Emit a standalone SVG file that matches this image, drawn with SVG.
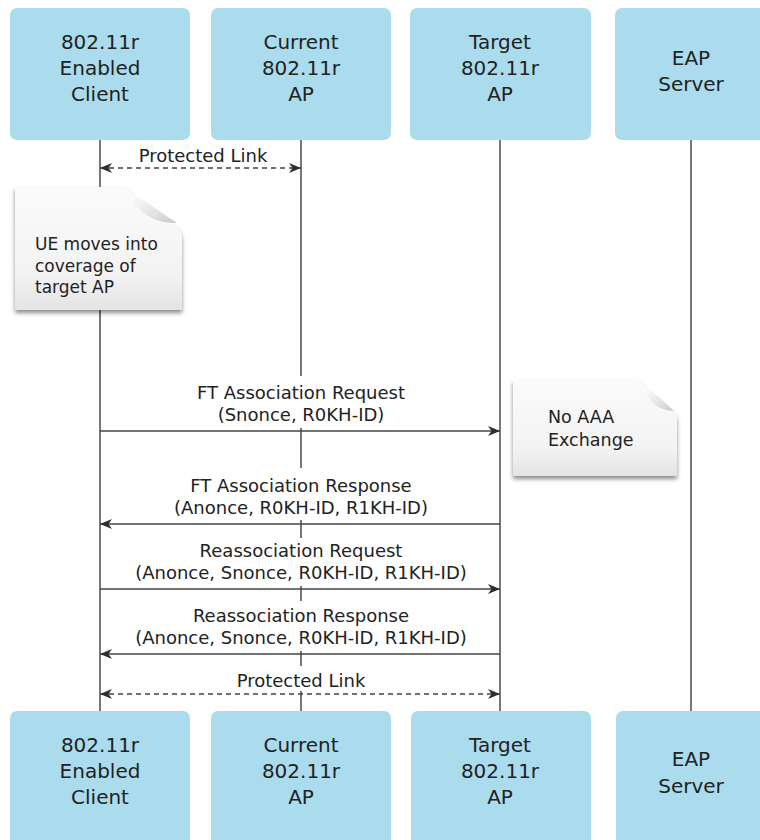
<svg xmlns="http://www.w3.org/2000/svg" width="760" height="840" viewBox="0 0 760 840">
<style>
.box{fill:#aadcee;}
.bt{font-family:"DejaVu Sans",sans-serif;font-size:20px;fill:#222;text-anchor:middle;}
.lt{font-family:"DejaVu Sans",sans-serif;font-size:18px;fill:#222;text-anchor:middle;}
.nt{font-family:"DejaVu Sans",sans-serif;font-size:17px;fill:#222;}
.life{stroke:#555;stroke-width:1.6;fill:none;}
.msg{stroke:#444;stroke-width:1.5;fill:none;marker-end:url(#ah);}
.dash{stroke:#444;stroke-width:1.5;fill:none;stroke-dasharray:5 4;marker-start:url(#ah);marker-end:url(#ah);}
.bg{fill:#ffffff;}
.page{fill:url(#pg);filter:url(#sh);}
.flap{fill:url(#fg);}
</style>
<defs>
<marker id="ah" viewBox="0 0 12 10" refX="12" refY="5" markerWidth="12" markerHeight="10" markerUnits="userSpaceOnUse" orient="auto-start-reverse">
<path d="M0,0 L12,5 L0,10 L3.5,5 Z" fill="#2e2e2e"/>
</marker>
<linearGradient id="pg" x1="0" y1="0" x2="0" y2="1">
<stop offset="0" stop-color="#fbfbfb"/>
<stop offset="0.7" stop-color="#f3f3f3"/>
<stop offset="1" stop-color="#e4e4e4"/>
</linearGradient>
<linearGradient id="fg" x1="0" y1="0" x2="1" y2="1">
<stop offset="0" stop-color="#ffffff"/>
<stop offset="0.6" stop-color="#e2e2e2"/>
<stop offset="1" stop-color="#c8c8c8"/>
</linearGradient>
<filter id="sh" x="-10%" y="-10%" width="125%" height="130%">
<feDropShadow dx="0" dy="3" stdDeviation="2" flood-color="#000" flood-opacity="0.45"/>
</filter>
</defs>
<rect x="0" y="0" width="760" height="840" fill="#ffffff"/>

<g id="lifelines">
<line class="life" x1="100" y1="140" x2="100" y2="711"/>
<line class="life" x1="301" y1="140" x2="301" y2="711"/>
<line class="life" x1="500" y1="140" x2="500" y2="711"/>
<line class="life" x1="691" y1="140" x2="691" y2="711"/>
</g>

<g id="node-client-top">
<rect class="box" x="10" y="8" width="180" height="132" rx="7"/>
<text class="bt" x="100" y="49">802.11r</text>
<text class="bt" x="100" y="75">Enabled</text>
<text class="bt" x="100" y="101">Client</text>
</g>
<g id="node-current-top">
<rect class="box" x="211" y="8" width="180" height="132" rx="7"/>
<text class="bt" x="301" y="49">Current</text>
<text class="bt" x="301" y="75">802.11r</text>
<text class="bt" x="301" y="101">AP</text>
</g>
<g id="node-target-top">
<rect class="box" x="410" y="8" width="181" height="132" rx="7"/>
<text class="bt" x="500" y="49">Target</text>
<text class="bt" x="500" y="75">802.11r</text>
<text class="bt" x="500" y="101">AP</text>
</g>
<g id="node-eap-top">
<rect class="box" x="615" y="8" width="160" height="132" rx="7"/>
<text class="bt" x="691" y="65">EAP</text>
<text class="bt" x="691" y="91">Server</text>
</g>

<g id="node-client-bottom">
<rect class="box" x="10" y="711" width="180" height="140" rx="7"/>
<text class="bt" x="100" y="752">802.11r</text>
<text class="bt" x="100" y="778">Enabled</text>
<text class="bt" x="100" y="804">Client</text>
</g>
<g id="node-current-bottom">
<rect class="box" x="211" y="711" width="180" height="140" rx="7"/>
<text class="bt" x="301" y="752">Current</text>
<text class="bt" x="301" y="778">802.11r</text>
<text class="bt" x="301" y="804">AP</text>
</g>
<g id="node-target-bottom">
<rect class="box" x="411" y="711" width="180" height="140" rx="7"/>
<text class="bt" x="500" y="752">Target</text>
<text class="bt" x="500" y="778">802.11r</text>
<text class="bt" x="500" y="804">AP</text>
</g>
<g id="node-eap-bottom">
<rect class="box" x="616" y="711" width="160" height="140" rx="7"/>
<text class="bt" x="691" y="766">EAP</text>
<text class="bt" x="691" y="793">Server</text>
</g>

<g id="connectors">
<line class="dash" x1="100" y1="168" x2="301" y2="168"/>
<text class="lt" x="203" y="162">Protected Link</text>

<rect class="bg" x="190" y="376" width="222" height="52"/>
<text class="lt" x="301" y="399">FT Association Request</text>
<text class="lt" x="301" y="421">(Snonce, R0KH-ID)</text>
<line class="msg" x1="100" y1="431" x2="500" y2="431"/>

<rect class="bg" x="170" y="468" width="262" height="52"/>
<text class="lt" x="301" y="492">FT Association Response</text>
<text class="lt" x="301" y="514">(Anonce, R0KH-ID, R1KH-ID)</text>
<line class="msg" x1="500" y1="524" x2="100" y2="524"/>

<rect class="bg" x="130" y="538" width="342" height="48"/>
<text class="lt" x="301" y="557">Reassociation Request</text>
<text class="lt" x="301" y="579">(Anonce, Snonce, R0KH-ID, R1KH-ID)</text>
<line class="msg" x1="100" y1="589" x2="500" y2="589"/>

<rect class="bg" x="130" y="601" width="342" height="50"/>
<text class="lt" x="301" y="622">Reassociation Response</text>
<text class="lt" x="301" y="644">(Anonce, Snonce, R0KH-ID, R1KH-ID)</text>
<line class="msg" x1="500" y1="654" x2="100" y2="654"/>

<rect class="bg" x="232" y="666" width="138" height="25"/>
<text class="lt" x="301" y="687">Protected Link</text>
<line class="dash" x1="100" y1="694" x2="500" y2="694"/>
</g>

<g id="note-ue">
<path class="page" d="M15,187 L120,187 C129,187 132,192 134,200 C137,211 150,222 170,224 C178,225 182,230 182,240 L182,310 L15,310 Z"/>
<path class="flap" d="M131,193 C142,198 160,212 177,223 C163,224 146,218 138,207 C135,203 133,198 131,193 Z"/>
<text class="nt" x="35" y="250">UE moves into</text>
<text class="nt" x="35" y="272">coverage of</text>
<text class="nt" x="35" y="293">target AP</text>
</g>

<g id="note-aaa">
<path class="page" d="M513,380 L634,380 C642,380 645,385 647,392 C650,402 659,410 669,411 C675,412 677,415 677,421 L677,476 L513,476 Z"/>
<path class="flap" d="M645,386 C653,392 664,401 674,411 C664,411 654,406 650,399 C648,395 646,391 645,386 Z"/>
<text class="nt" x="548" y="423" style="font-size:17.5px">No AAA</text>
<text class="nt" x="548" y="446" style="font-size:17.5px">Exchange</text>
</g>
</svg>
